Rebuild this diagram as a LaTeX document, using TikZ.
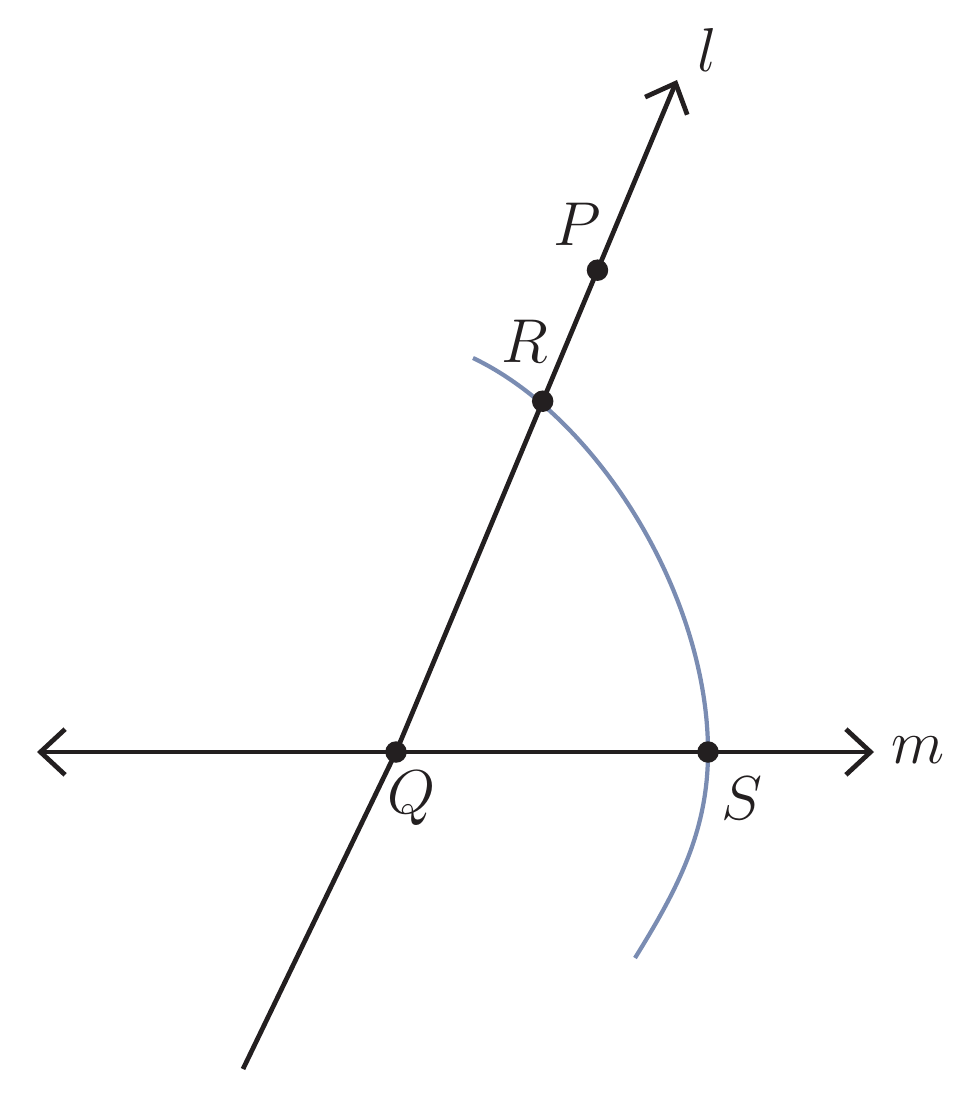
\documentclass[tikz,border=0pt]{standalone}
\usetikzlibrary{arrows.meta, positioning, calc, backgrounds}
\definecolor{ink}{RGB}{35,31,32}
\definecolor{arcblue}{RGB}{122,140,178}
\newcommand{\ptname}[1]{\scalebox{1.7}{$#1$}}
\begin{document}
\begin{tikzpicture}[x=0.02cm, y=-0.02cm, >={Straight Barb[length=14pt, width=26pt]}]

\tikzstyle{dot} = [circle, fill=ink, inner sep=0pt, minimum size=0.43cm]
\tikzstyle{lbl} = [font=\fontsize{20}{24}\selectfont, text=ink, inner sep=0pt]
\tikzstyle{line} = [draw=ink, line width=2.7pt]
\tikzstyle{arc} = [draw=arcblue, line width=2.4pt]

\useasboundingbox (0,0) rectangle (976,1095);

\coordinate (Lend) at (243,1069);
\coordinate (Ltip) at (677,80);
\coordinate (Mleft) at (37,752);
\coordinate (Mright) at (874,752);
\coordinate (Atop) at (473,358);
\coordinate (Abot) at (635,958);

\node (Q) [dot] at (396,752) {};
\node (S) [dot] at (708,752) {};
\node (R) [dot] at ($(Q)!0.522!(Ltip)$) {};
\node (P) [dot] at ($(Q)!0.717!(Ltip)$) {};

\node (Plbl) [lbl] at ([shift={(-20,-46)}]P.center) {\ptname{P}};
\node (Rlbl) [lbl] at ([shift={(-18,-60)}]R.center) {\ptname{R}};
\node (Qlbl) [lbl] at ([shift={(16,46)}]Q.center) {\ptname{Q}};
\node (Slbl) [lbl] at ([shift={(34,46)}]S.center) {\ptname{S}};
\node (llbl) [lbl] at ([shift={(30,-30)}]Ltip) {\ptname{l}};
\node (mlbl) [lbl] at ([shift={(44,-2)}]Mright) {\ptname{m}};

\begin{scope}[on background layer]
% arc through R and S
\draw [arc] (Atop) .. controls (597,417) and (708,595) .. (S.center)
  .. controls (708,832) and (677,890) .. (Abot);
% lines l and m
\draw [line] (Lend) -- (Q.center);
\draw [line, ->] (Q.center) -- (R.center) -- (P.center) -- (Ltip);
\draw [line, <-] (Mleft) -- (Q.center);
\draw [line] (Q.center) -- (S.center);
\draw [line, ->] (S.center) -- (Mright);
\end{scope}

\end{tikzpicture}
\end{document}
